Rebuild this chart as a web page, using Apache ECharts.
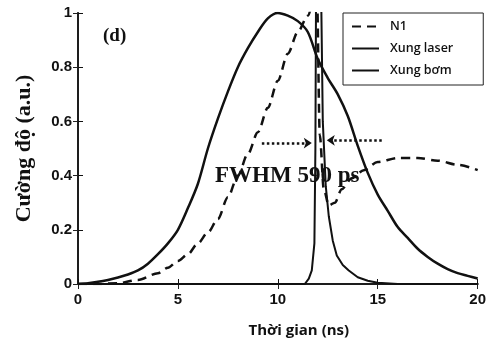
<!DOCTYPE html>
<html>
<head>
<meta charset="utf-8">
<script src="https://cdn.jsdelivr.net/npm/echarts/dist/echarts.min.js"></script>
<style>
    html, body { margin: 0; padding: 0; background: #fff; }
    #ec1 { width: 489px; height: 346px; }
</style>
</head>
<body>
<div id="ec1"></div>
<script>
// du lieu doc tu hinh
var pumpTime = [0, 0.5, 1, 1.5, 2, 2.5, 3, 3.5, 4, 4.5, 5, 5.5, 6, 6.5, 7, 7.5, 8, 8.5, 9, 9.5, 10,
    10.5, 11, 11.5, 12, 12.5, 13, 13.5, 14, 14.5, 15, 15.5, 16, 16.5, 17, 17.5, 18, 18.5, 19, 19.5, 20];
var pumpValue = [0, 0.003, 0.008, 0.015, 0.024, 0.035, 0.05, 0.075, 0.11, 0.15, 0.2, 0.28, 0.37, 0.5, 0.61, 0.71, 0.8, 0.87, 0.93, 0.98, 1.0,
    0.99, 0.97, 0.93, 0.83, 0.76, 0.7, 0.62, 0.51, 0.41, 0.33, 0.27, 0.21, 0.17, 0.13, 0.1, 0.075, 0.055, 0.04, 0.03, 0.02];

var n1Time = [0, 1, 2, 3, 4, 4.5, 5, 5.5, 6, 6.5, 7, 7.5, 8, 8.5, 9, 9.5, 10, 10.5, 11, 11.5, 11.95,
    12.1, 12.3, 12.55, 12.85, 13.2, 13.7, 14.3, 15, 16, 17, 18, 19, 20];
var n1Value = [0, 0, 0.003, 0.015, 0.04, 0.06, 0.085, 0.11, 0.15, 0.19, 0.24, 0.32, 0.4, 0.48, 0.56, 0.65, 0.75, 0.85, 0.93, 0.99, 1.1,
    0.55, 0.35, 0.29, 0.3, 0.35, 0.39, 0.42, 0.45, 0.465, 0.465, 0.455, 0.44, 0.42];

var laserTime = [0, 11.35, 11.55, 11.7, 11.83, 11.88, 11.92, 12.0, 12.1, 12.18, 12.25, 12.4, 12.55, 12.75, 12.95, 13.25, 13.55, 14, 14.5, 15, 16, 20];
var laserValue = [0, 0, 0.02, 0.05, 0.15, 0.5, 1.2, 1.8, 1.6, 1.0, 0.6, 0.36, 0.25, 0.16, 0.105, 0.07, 0.05, 0.025, 0.012, 0.005, 0, 0];

var xTicks = [0, 5, 10, 15, 20];
var yTicks = [0, 0.2, 0.4, 0.6, 0.8, 1];

function zip(a, b) {
    var out = [];
    for (var i = 0; i < a.length; i++) {
        out.push([a[i], b[i]]);
    }
    return out;
}

var myChart1 = echarts.init(document.getElementById('ec1'));

var labelFont = {
    color: '#111',
    fontFamily: 'Liberation Sans',
    fontWeight: 'bold',
    fontSize: 15
};

var option = {
    backgroundColor: '#fff',
    animation: false,
    grid: {
        left: 78,
        right: 9,
        top: 13,
        bottom: 62
    },
    legend: {
        orient: 'vertical',
        left: 343,
        top: 13,
        padding: [7, 30, 8, 8],
        itemWidth: 27,
        itemHeight: 10,
        itemGap: 9,
        borderColor: '#222',
        borderWidth: 1,
        backgroundColor: '#fff',
        itemStyle: { color: 'transparent', borderWidth: 0 },
        textStyle: {
            color: '#111',
            fontFamily: 'Open Sans',
            fontWeight: 600,
            fontSize: 12.5,
            padding: [0, 0, 0, 6]
        },
        data: ['N1', 'Xung laser', 'Xung bơm']
    },
    xAxis: [
        {
            type: 'value',
            min: xTicks[0],
            max: xTicks[xTicks.length - 1],
            interval: 5,
            name: 'Thời gian (ns)',
            nameLocation: 'middle',
            nameGap: 39,
            nameMoveOverlap: false,
            nameTextStyle: {
                color: '#111',
                fontFamily: 'Open Sans',
                fontWeight: 'bold',
                fontSize: 15,
                padding: [0, 0, 0, 42]
            },
            axisLine: { lineStyle: { color: '#111', width: 2 } },
            axisTick: { inside: true, length: 5, lineStyle: { color: '#111' } },
            axisLabel: Object.assign({ margin: 8 }, labelFont),
            splitLine: { show: false }
        },
        {
            type: 'value',
            position: 'top',
            min: xTicks[0],
            max: xTicks[xTicks.length - 1],
            interval: 5,
            axisLine: { lineStyle: { color: '#222', width: 1.5 } },
            axisTick: { inside: true, length: 5, lineStyle: { color: '#222' } },
            axisLabel: { show: false },
            splitLine: { show: false }
        }
    ],
    yAxis: [
        {
            type: 'value',
            min: yTicks[0],
            max: yTicks[yTicks.length - 1],
            interval: 0.2,
            name: 'Cường độ (a.u.)',
            nameLocation: 'middle',
            nameGap: 43,
            nameMoveOverlap: false,
            nameTextStyle: {
                color: '#111',
                fontFamily: 'Liberation Serif',
                fontWeight: 'bold',
                fontSize: 22
            },
            axisLine: { show: true, lineStyle: { color: '#111', width: 2 } },
            axisTick: { show: true, inside: true, length: 5, lineStyle: { color: '#111' } },
            axisLabel: Object.assign({ margin: 6 }, labelFont),
            splitLine: { show: false }
        },
        {
            type: 'value',
            position: 'right',
            min: yTicks[0],
            max: yTicks[yTicks.length - 1],
            interval: 0.2,
            axisLine: { show: true, lineStyle: { color: '#222', width: 1.5 } },
            axisTick: { show: true, inside: true, length: 5, lineStyle: { color: '#222' } },
            axisLabel: { show: false },
            splitLine: { show: false }
        }
    ],
    graphic: [
        {
            type: 'text',
            left: 103,
            top: 27,
            style: {
                text: '(d)',
                fill: '#111',
                font: 'bold 19px "Liberation Serif"'
            }
        },
        {
            type: 'text',
            left: 215,
            top: 165,
            style: {
                text: 'FWHM 590 ps',
                fill: '#111',
                font: 'bold 23px "Liberation Serif"'
            }
        }
    ],
    series: [
        {
            name: 'N1',
            type: 'line',
            data: zip(n1Time, n1Value),
            symbol: 'none',
            smooth: 0.3,
            smoothMonotone: 'x',
            lineStyle: { color: '#111', width: 2.5, type: [9, 6] },
            itemStyle: { color: '#111' },
            z: 3
        },
        {
            name: 'Xung laser',
            type: 'line',
            data: zip(laserTime, laserValue),
            symbol: 'none',
            lineStyle: { color: '#111', width: 2 },
            itemStyle: { color: '#111' },
            z: 4
        },
        {
            name: 'Xung bơm',
            type: 'line',
            data: zip(pumpTime, pumpValue),
            symbol: 'none',
            smooth: 0.3,
            lineStyle: { color: '#111', width: 2.5 },
            itemStyle: { color: '#111' },
            z: 2,
            markLine: {
                silent: true,
                symbol: ['none', 'arrow'],
                symbolSize: 8,
                label: { show: false },
                lineStyle: { color: '#111', width: 2.5, type: 'dotted' },
                data: [
                    [{ coord: [9.2, 0.52] }, { coord: [11.7, 0.52] }],
                    [{ coord: [15.2, 0.53] }, { coord: [12.45, 0.53] }]
                ]
            }
        }
    ]
};
myChart1.setOption(option);
</script>
</body>
</html>
